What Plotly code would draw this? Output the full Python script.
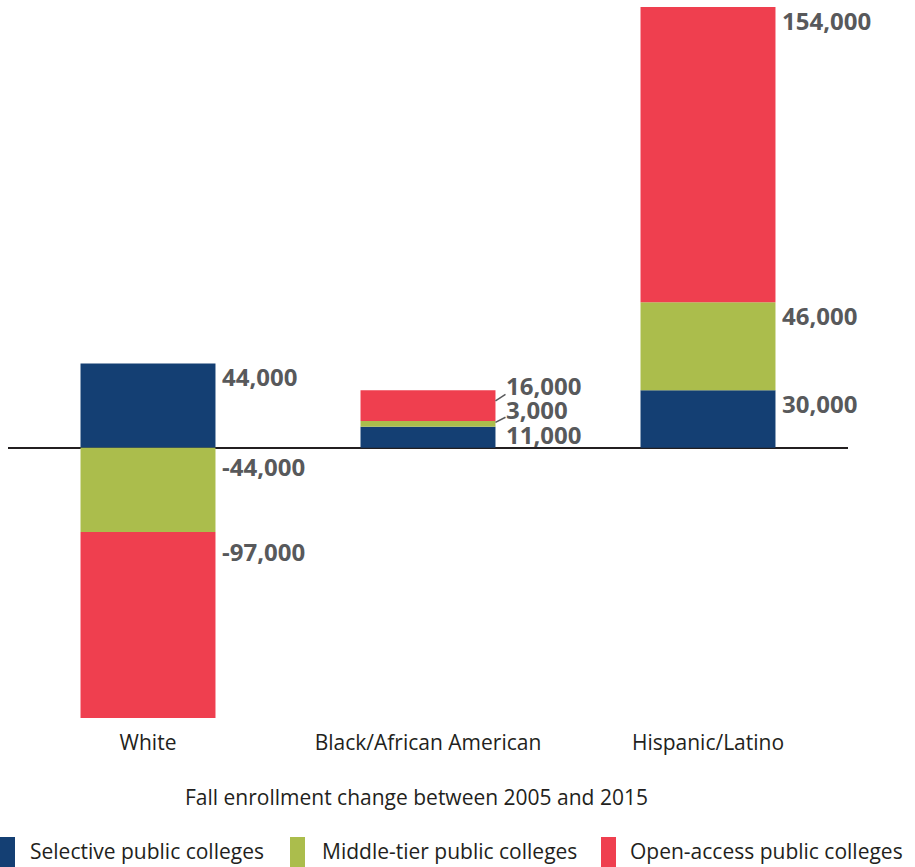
import plotly.graph_objects as go

# Enrollment change 2005-2015 by race/ethnicity and college tier
groups = ["White", "Black/African American", "Hispanic/Latino"]
series_names = ["Selective public colleges", "Middle-tier public colleges", "Open-access public colleges"]
selective = [44000, 11000, 30000]
middle_tier = [-44000, 3000, 46000]
open_access = [-97000, 16000, 154000]
series_values = [selective, middle_tier, open_access]
colors = ["#143f73", "#abbd4c", "#ef3f4f"]

W, H = 915, 867
ML, MR, MT, MB = 8, 67, 7, 149
PW, PH = W - ML - MR, H - MT - MB
BAR_WIDTH = 0.482

LABEL_GRAY = "#58595b"
TEXT_DARK = "#231f20"
FONT = "Open Sans"


def px_x(px):
    return (px - ML) / PW


def px_y(py):
    return (H - MB - py) / PH


fig = go.Figure()
for name, vals, col in zip(series_names, series_values, colors):
    fig.add_bar(x=groups, y=vals, name=name, marker=dict(color=col, line=dict(width=0)),
                width=BAR_WIDTH, showlegend=False, hoverinfo="skip")

# value labels beside the right edge of each segment
# per-group vertical pixel offsets (from segment top) for crowded stacks
crowded_offsets = {1: [-8, 11, 5]}
annotations = []
shapes = []
for gi, g in enumerate(groups):
    pos_cum, neg_cum = 0, 0
    for si, vals in enumerate(series_values):
        v = vals[gi]
        if v >= 0:
            pos_cum += v
            top = pos_cum
            shift = -13
        else:
            top = neg_cum
            neg_cum += v
            shift = -19
        xshift = 5
        if gi in crowded_offsets:
            shift = crowded_offsets[gi][si]
            xshift = 9
        annotations.append(dict(
            x=gi + BAR_WIDTH / 2, y=top, xref="x", yref="y",
            text=f"{v:,}", showarrow=False, xanchor="left", yanchor="middle",
            xshift=xshift, yshift=shift,
            font=dict(family=FONT, size=24, color=LABEL_GRAY, weight="bold"),
        ))

# leader lines for the crowded Black/African American stack
b_top_mid = selective[1] + middle_tier[1]
b_top_all = b_top_mid + open_access[1]
for anchor_y, y0, y1 in [(b_top_all, -10.5, -4), (b_top_mid, -1.5, 3.7)]:
    shapes.append(dict(
        type="line", xref="x", yref="y",
        xsizemode="pixel", xanchor=1 + BAR_WIDTH / 2, x0=0, x1=10,
        ysizemode="pixel", yanchor=anchor_y, y0=y0, y1=y1,
        line=dict(color=LABEL_GRAY, width=1.5),
    ))

# axis title
annotations.append(dict(
    x=px_x(416), y=px_y(797), xref="paper", yref="paper",
    text="Fall enrollment change between 2005 and 2015", showarrow=False,
    xanchor="center", yanchor="middle",
    font=dict(family=FONT, size=21, color=TEXT_DARK),
))

# legend swatches and labels along the bottom edge
legend_swatch_x = [0, 290, 601]
legend_text_x = [28, 320, 628]
for name, col, sx, tx in zip(series_names, colors, legend_swatch_x, legend_text_x):
    shapes.append(dict(
        type="rect", xref="paper", yref="paper",
        x0=px_x(sx), x1=px_x(sx + 15), y0=px_y(837), y1=px_y(H + 10),
        fillcolor=col, line=dict(width=0),
    ))
    annotations.append(dict(
        x=px_x(tx), y=px_y(H), xref="paper", yref="paper",
        text=name, showarrow=False, xanchor="left", yanchor="bottom",
        font=dict(family=FONT, size=21, color=TEXT_DARK),
    ))

fig.update_layout(
    width=W, height=H,
    margin=dict(l=ML, r=MR, t=MT, b=MB),
    barmode="relative",
    bargap=1 - BAR_WIDTH,
    paper_bgcolor="white", plot_bgcolor="white",
    font=dict(family=FONT, color=TEXT_DARK),
    annotations=annotations,
    shapes=shapes,
)
fig.update_xaxes(
    range=[-0.5, 2.5],
    showgrid=False, showline=False, zeroline=False,
    ticks="outside", ticklen=0, ticklabelstandoff=6,
    tickfont=dict(family=FONT, size=21, color=TEXT_DARK),
)
fig.update_yaxes(
    range=[-141000, 230000], showgrid=False, showticklabels=False,
    zeroline=True, zerolinecolor="#231f20", zerolinewidth=1.5,
)

fig.write_html("out.html")
